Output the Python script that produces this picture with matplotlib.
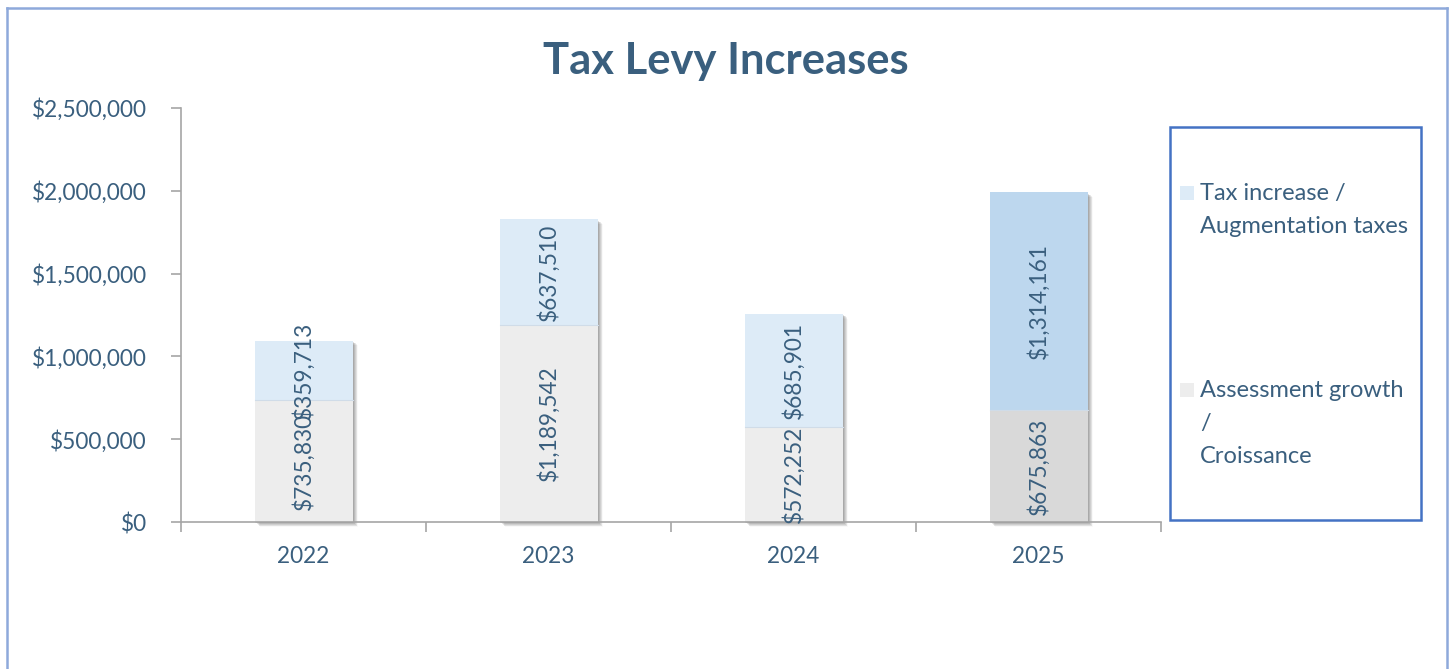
import matplotlib
matplotlib.use("Agg")
import matplotlib.pyplot as plt
import matplotlib.transforms as mtransforms
from matplotlib.patches import Rectangle
from matplotlib.lines import Line2D
from matplotlib.ticker import FuncFormatter

years = ["2022", "2023", "2024", "2025"]
growth = [735830, 1189542, 572252, 675863]
increase = [359713, 637510, 685901, 1314161]

growth_label = "Assessment growth\n/\nCroissance"
increase_label = "Tax increase /\nAugmentation taxes"

# last year is highlighted with stronger fills
growth_colors = ["#EDEDED", "#EDEDED", "#EDEDED", "#D9D9D9"]
increase_colors = ["#DDEBF7", "#DDEBF7", "#DDEBF7", "#BDD7EE"]

TEXT = "#3A5F7E"
AXIS = "#A6A6A6"
FRAME = "#8EA9DB"

plt.rcParams["font.family"] = ["Lato", "DejaVu Sans"]

W, H = 1453, 669
fig = plt.figure(figsize=(W / 100, H / 100), dpi=100)
ax = fig.add_axes([181 / W, 1 - 522 / H, (1161 - 181) / W, (522 - 108) / H])

x = list(range(len(years)))
totals = [g + i for g, i in zip(growth, increase)]
bw = 0.4

# soft drop shadow behind each stacked bar
for k, a in [(1, 0.16), (2, 0.15), (3, 0.13), (4, 0.11), (5, 0.08), (6, 0.05), (7, 0.03)]:
    off = mtransforms.ScaledTranslation(k / 100 * 0.8, -k / 100 * 0.7, fig.dpi_scale_trans)
    ax.bar(x, totals, width=bw, color="#404040", alpha=a, linewidth=0,
           transform=ax.transData + off, zorder=1, clip_on=False)

ax.bar(x, growth, width=bw, color=growth_colors, linewidth=0, zorder=2)
ax.bar(x, increase, width=bw, bottom=growth, color=increase_colors, linewidth=0, zorder=2)
# thin seam between the two segments
for xi, g in zip(x, growth):
    ax.plot([xi - bw / 2, xi + bw / 2], [g, g], color="#D0DCE8", lw=0.8, zorder=3)

for xi, g, inc in zip(x, growth, increase):
    ax.text(xi, g / 2, f"${g:,.0f}", rotation=90, ha="center", va="center",
            fontsize=16.3, color=TEXT, zorder=4)
    ax.text(xi, g + inc / 2, f"${inc:,.0f}", rotation=90, ha="center", va="center",
            fontsize=16.3, color=TEXT, zorder=4)

ax.set_xlim(-0.5, len(years) - 0.5)
ax.set_ylim(0, 2500000)
ax.set_yticks(range(0, 2500001, 500000))
ax.yaxis.set_major_formatter(FuncFormatter(lambda v, p: f"${v:,.0f}"))
ax.set_xticks(x)
ax.set_xticklabels(years)
ax.set_xticks([i - 0.5 for i in range(len(years) + 1)], minor=True)

for s in ["top", "right"]:
    ax.spines[s].set_visible(False)
for s in ["left", "bottom"]:
    ax.spines[s].set_color(AXIS)
    ax.spines[s].set_linewidth(1.2)

ax.tick_params(axis="y", length=7, width=1.2, color=AXIS, labelsize=16.3, labelcolor=TEXT, pad=17.5)
ax.tick_params(axis="x", which="major", length=0, labelsize=16.3, labelcolor=TEXT, pad=17)
ax.tick_params(axis="x", which="minor", length=7, width=1.2, color=AXIS)

fig.text(726 / W, 1 - 61 / H, "Tax Levy Increases", ha="center", va="center",
         fontsize=31.3, fontweight="bold", color=TEXT)

# legend panel on the right
fig.patches.append(Rectangle((1170 / W, 1 - 520 / H), (1421 - 1170) / W, (520 - 127) / H,
                             transform=fig.transFigure, fill=False,
                             edgecolor="#4472C4", linewidth=1.8))
legend_items = [(increase_label, "#DDEBF7", 193), (growth_label, "#EDEDED", 390)]
for label, col, ytop in legend_items:
    fig.patches.append(Rectangle((1180 / W, 1 - (ytop + 7) / H), 14 / W, 14 / H,
                                 transform=fig.transFigure, facecolor=col, edgecolor="none"))
    fig.text(1200 / W, 1 - (ytop - 10) / H, label, ha="left", va="top",
             fontsize=17, color=TEXT, linespacing=1.72)

# outer frame (open at the bottom)
for xs, ys in [([7, 7], [669, 8]), ([7, 1447], [8, 8]), ([1447, 1447], [8, 669])]:
    fig.add_artist(Line2D([v / W for v in xs], [1 - v / H for v in ys],
                          transform=fig.transFigure, color=FRAME, lw=1.8))

fig.savefig("out.png", dpi=100)
